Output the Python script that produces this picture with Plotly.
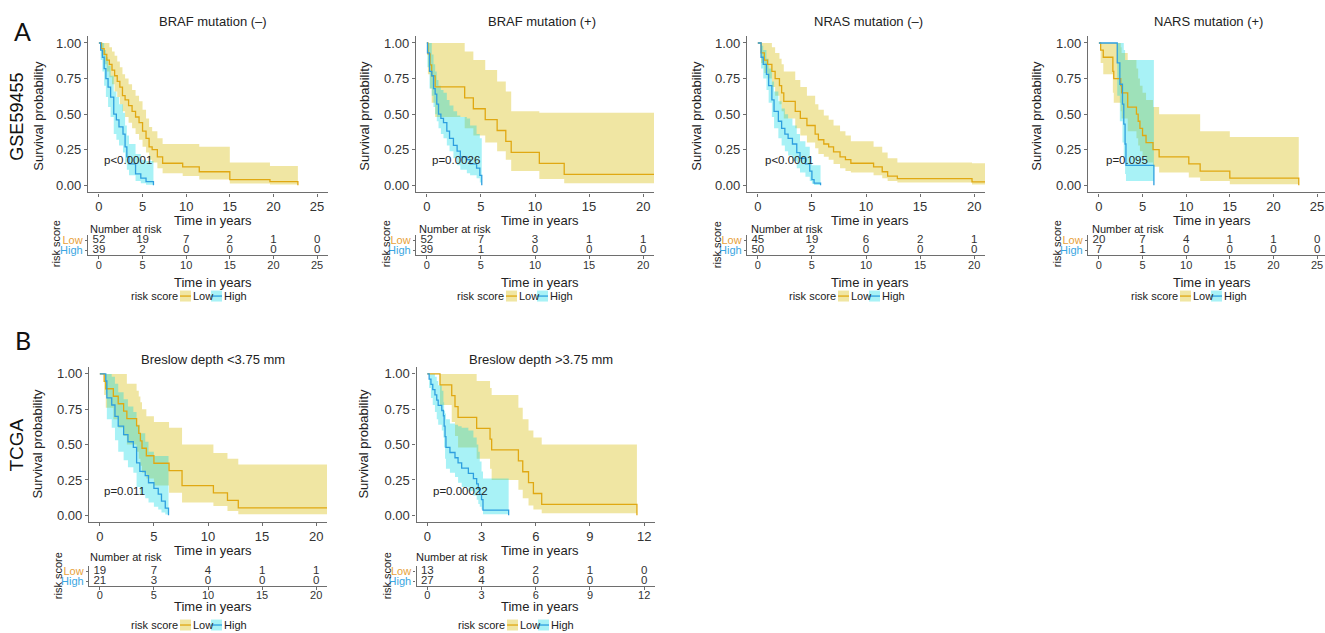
import plotly.graph_objects as go

# ------------------------------------------------------------------ data
titles = ["BRAF mutation (–)", "BRAF mutation (+)", "NRAS mutation (–)",
          "NARS mutation (+)", "Breslow depth <3.75 mm", "Breslow depth >3.75 mm"]
pvalues = ["p<0.0001", "p=0.0026", "p<0.0001", "p=0.095", "p=0.011", "p=0.00022"]
row_labels = ["GSE59455", "TCGA"]
group_names = ["Low", "High"]

# --- A1 BRAF mutation (-)
a1_low_t = [0, 0.3, 0.6, 0.9, 1.2, 1.5, 1.8, 2.1, 2.4, 2.7, 3.0, 3.4, 3.8, 4.2, 4.6, 5.0, 5.4, 5.75, 6.1, 6.7, 7.3, 9.6, 11.5, 15.0, 19.6, 22.8]
a1_low_s = [1.0, 0.96, 0.92, 0.88, 0.85, 0.81, 0.77, 0.73, 0.69, 0.63, 0.60, 0.56, 0.52, 0.48, 0.44, 0.38, 0.33, 0.27, 0.25, 0.20, 0.155, 0.13, 0.095, 0.04, 0.025, 0.0]
a1_low_lo = [1.0, 0.91, 0.85, 0.80, 0.76, 0.71, 0.66, 0.62, 0.57, 0.52, 0.48, 0.44, 0.40, 0.36, 0.32, 0.27, 0.23, 0.18, 0.16, 0.12, 0.085, 0.065, 0.04, 0.012, 0.005, 0.0]
a1_low_hi = [1.0, 1.0, 1.0, 1.0, 0.97, 0.94, 0.91, 0.87, 0.83, 0.78, 0.75, 0.71, 0.67, 0.63, 0.59, 0.53, 0.47, 0.41, 0.38, 0.33, 0.29, 0.29, 0.27, 0.16, 0.135, 0.0]
a1_high_t = [0, 0.2, 0.4, 0.6, 0.8, 1.05, 1.34, 1.7, 2.0, 2.3, 2.76, 3.0, 3.2, 3.45, 4.2, 4.8, 5.4, 6.25]
a1_high_s = [1.0, 0.95, 0.90, 0.82, 0.75, 0.69, 0.62, 0.50, 0.46, 0.41, 0.36, 0.27, 0.20, 0.15, 0.08, 0.05, 0.025, 0.0]
a1_high_lo = [1.0, 0.88, 0.80, 0.70, 0.62, 0.55, 0.48, 0.36, 0.32, 0.28, 0.23, 0.16, 0.11, 0.07, 0.03, 0.015, 0.004, 0.0]
a1_high_hi = [1.0, 1.0, 1.0, 0.95, 0.90, 0.84, 0.77, 0.66, 0.62, 0.57, 0.51, 0.42, 0.35, 0.29, 0.22, 0.18, 0.17, 0.0]

# --- A2 BRAF mutation (+)
a2_low_t = [0, 0.1, 0.3, 0.45, 0.77, 3.5, 4.3, 5.4, 6.5, 7.3, 7.8, 10.4, 12.7, 21.0]
a2_low_s = [1.0, 0.923, 0.846, 0.769, 0.692, 0.615, 0.538, 0.462, 0.385, 0.308, 0.231, 0.154, 0.077, 0.077]
a2_low_lo = [1.0, 0.78, 0.68, 0.58, 0.48, 0.40, 0.35, 0.30, 0.24, 0.18, 0.10, 0.045, 0.015, 0.015]
a2_low_hi = [1.0, 1.0, 1.0, 1.0, 1.0, 0.94, 0.88, 0.81, 0.73, 0.66, 0.52, 0.51, 0.51, 0.51]
a2_high_t = [0, 0.06, 0.25, 0.46, 0.62, 0.77, 0.92, 1.08, 1.3, 1.54, 1.85, 2.1, 2.46, 2.8, 3.1, 3.7, 4.0, 4.6, 4.9, 5.08]
a2_high_s = [1.0, 0.93, 0.80, 0.77, 0.68, 0.64, 0.57, 0.50, 0.47, 0.44, 0.38, 0.33, 0.28, 0.24, 0.20, 0.18, 0.15, 0.12, 0.07, 0.0]
a2_high_lo = [1.0, 0.83, 0.68, 0.63, 0.55, 0.50, 0.45, 0.40, 0.36, 0.33, 0.28, 0.24, 0.19, 0.14, 0.11, 0.085, 0.07, 0.05, 0.02, 0.0]
a2_high_hi = [1.0, 1.0, 1.0, 0.92, 0.85, 0.80, 0.74, 0.70, 0.67, 0.65, 0.60, 0.56, 0.52, 0.49, 0.48, 0.47, 0.42, 0.36, 0.33, 0.0]

# --- A3 NRAS mutation (-)
a3_low_t = [0, 0.3, 0.6, 0.9, 1.3, 1.6, 2.0, 2.2, 2.4, 3.46, 3.93, 4.54, 5.3, 5.6, 6.1, 6.55, 7.0, 7.6, 8.1, 8.6, 10.7, 11.5, 12.0, 12.9, 19.8, 21.0]
a3_low_s = [1.0, 0.93, 0.88, 0.85, 0.80, 0.75, 0.70, 0.65, 0.59, 0.52, 0.47, 0.42, 0.36, 0.32, 0.29, 0.27, 0.235, 0.20, 0.18, 0.155, 0.13, 0.095, 0.064, 0.047, 0.024, 0.024]
a3_low_lo = [1.0, 0.86, 0.79, 0.75, 0.69, 0.63, 0.57, 0.52, 0.47, 0.40, 0.35, 0.30, 0.26, 0.22, 0.20, 0.18, 0.15, 0.12, 0.10, 0.09, 0.07, 0.05, 0.03, 0.02, 0.005, 0.005]
a3_low_hi = [1.0, 1.0, 1.0, 1.0, 0.97, 0.93, 0.89, 0.85, 0.80, 0.74, 0.69, 0.63, 0.57, 0.53, 0.49, 0.46, 0.42, 0.38, 0.35, 0.31, 0.27, 0.23, 0.19, 0.16, 0.155, 0.155]
a3_high_t = [0, 0.3, 0.5, 0.8, 1.0, 1.3, 1.5, 1.9, 2.2, 2.5, 2.8, 3.2, 3.6, 3.9, 4.4, 4.8, 5.0, 5.2, 5.8]
a3_high_s = [1.0, 0.90, 0.85, 0.78, 0.70, 0.60, 0.52, 0.45, 0.40, 0.36, 0.33, 0.29, 0.23, 0.19, 0.15, 0.10, 0.04, 0.015, 0.0]
a3_high_lo = [1.0, 0.82, 0.75, 0.67, 0.58, 0.48, 0.40, 0.33, 0.28, 0.24, 0.21, 0.17, 0.12, 0.09, 0.06, 0.03, 0.01, 0.002, 0.0]
a3_high_hi = [1.0, 0.98, 0.95, 0.89, 0.82, 0.73, 0.66, 0.59, 0.54, 0.50, 0.47, 0.42, 0.36, 0.31, 0.27, 0.20, 0.14, 0.14, 0.0]

# --- A4 NARS mutation (+)
a4_low_t = [0, 0.2, 0.5, 1.6, 1.7, 2.5, 2.6, 3.3, 4.3, 4.5, 4.7, 5.0, 5.4, 6.2, 6.9, 10.3, 11.6, 15.0, 22.9]
a4_low_s = [1.0, 0.95, 0.90, 0.80, 0.75, 0.70, 0.65, 0.55, 0.50, 0.45, 0.40, 0.35, 0.30, 0.25, 0.20, 0.15, 0.10, 0.05, 0.0]
a4_low_lo = [1.0, 0.86, 0.78, 0.65, 0.58, 0.52, 0.47, 0.38, 0.33, 0.28, 0.24, 0.20, 0.16, 0.13, 0.09, 0.055, 0.03, 0.008, 0.0]
a4_low_hi = [1.0, 1.0, 1.0, 1.0, 1.0, 0.97, 0.93, 0.88, 0.82, 0.75, 0.70, 0.65, 0.60, 0.55, 0.50, 0.50, 0.38, 0.34, 0.0]
a4_high_t = [0, 2.1, 2.4, 2.7, 2.85, 3.0, 3.1, 6.3]
a4_high_s = [1.0, 0.86, 0.71, 0.57, 0.43, 0.29, 0.14, 0.0]
a4_high_lo = [1.0, 0.63, 0.45, 0.30, 0.18, 0.08, 0.03, 0.0]
a4_high_hi = [1.0, 1.0, 1.0, 1.0, 0.95, 0.88, 0.88, 0.0]

# --- B1 Breslow depth <3.75 mm
b1_low_t = [0, 0.4, 0.55, 1.25, 1.7, 2.2, 2.5, 3.4, 3.6, 3.75, 3.9, 4.3, 5.0, 6.4, 7.6, 10.5, 11.8, 12.8, 21.0]
b1_low_s = [1.0, 0.947, 0.895, 0.842, 0.789, 0.737, 0.684, 0.632, 0.579, 0.526, 0.474, 0.421, 0.368, 0.316, 0.21, 0.158, 0.105, 0.053, 0.053]
b1_low_lo = [1.0, 0.85, 0.76, 0.68, 0.62, 0.56, 0.50, 0.45, 0.40, 0.35, 0.30, 0.26, 0.21, 0.16, 0.09, 0.065, 0.03, 0.008, 0.008]
b1_low_hi = [1.0, 1.0, 1.0, 1.0, 1.0, 1.0, 0.93, 0.88, 0.84, 0.80, 0.75, 0.70, 0.66, 0.62, 0.50, 0.44, 0.40, 0.36, 0.36]
b1_high_t = [0, 0.55, 0.65, 1.1, 1.4, 1.7, 2.2, 2.6, 3.1, 3.4, 3.7, 4.2, 4.5, 5.0, 5.4, 5.7, 6.05, 6.35]
b1_high_s = [1.0, 0.95, 0.83, 0.78, 0.70, 0.63, 0.57, 0.52, 0.48, 0.37, 0.31, 0.28, 0.23, 0.19, 0.15, 0.10, 0.05, 0.0]
b1_high_lo = [1.0, 0.86, 0.68, 0.62, 0.53, 0.45, 0.39, 0.34, 0.30, 0.20, 0.15, 0.12, 0.09, 0.06, 0.04, 0.02, 0.005, 0.0]
b1_high_hi = [1.0, 1.0, 1.0, 0.98, 0.93, 0.87, 0.82, 0.77, 0.73, 0.64, 0.58, 0.52, 0.45, 0.42, 0.42, 0.42, 0.42, 0.0]

# --- B2 Breslow depth >3.75 mm
b2_low_t = [0, 0.7, 1.35, 1.53, 1.7, 2.73, 3.47, 3.56, 5.04, 5.28, 5.6, 5.87, 6.33, 11.6]
b2_low_s = [1.0, 0.923, 0.846, 0.769, 0.692, 0.615, 0.538, 0.462, 0.385, 0.308, 0.231, 0.154, 0.077, 0.0]
b2_low_lo = [1.0, 0.78, 0.66, 0.56, 0.48, 0.40, 0.33, 0.25, 0.18, 0.12, 0.07, 0.04, 0.015, 0.0]
b2_low_hi = [1.0, 1.0, 1.0, 1.0, 1.0, 0.95, 0.90, 0.85, 0.76, 0.68, 0.60, 0.55, 0.50, 0.0]
b2_high_t = [0, 0.1, 0.2, 0.3, 0.42, 0.52, 0.6, 0.8, 0.89, 0.93, 0.98, 1.03, 1.25, 1.53, 1.7, 1.9, 2.27, 2.55, 2.73, 2.82, 2.9, 3.0, 3.08, 4.5]
b2_high_s = [1.0, 0.963, 0.926, 0.889, 0.852, 0.815, 0.778, 0.741, 0.704, 0.63, 0.556, 0.481, 0.444, 0.407, 0.37, 0.333, 0.296, 0.259, 0.222, 0.185, 0.148, 0.111, 0.037, 0.0]
b2_high_lo = [1.0, 0.90, 0.83, 0.78, 0.73, 0.68, 0.64, 0.60, 0.55, 0.48, 0.40, 0.33, 0.30, 0.27, 0.23, 0.20, 0.17, 0.14, 0.11, 0.08, 0.06, 0.04, 0.008, 0.0]
b2_high_hi = [1.0, 1.0, 1.0, 1.0, 0.98, 0.95, 0.92, 0.88, 0.80, 0.74, 0.72, 0.68, 0.65, 0.64, 0.63, 0.62, 0.60, 0.55, 0.50, 0.45, 0.38, 0.31, 0.26, 0.0]

# --- number at risk tables
a1_risk_t = [0, 5, 10, 15, 20, 25]
a1_risk_low = [52, 19, 7, 2, 1, 0]
a1_risk_high = [39, 2, 0, 0, 0, 0]
a2_risk_t = [0, 5, 10, 15, 20]
a2_risk_low = [52, 7, 3, 1, 1]
a2_risk_high = [39, 1, 0, 0, 0]
a3_risk_t = [0, 5, 10, 15, 20]
a3_risk_low = [45, 19, 6, 2, 1]
a3_risk_high = [50, 2, 0, 0, 0]
a4_risk_t = [0, 5, 10, 15, 20, 25]
a4_risk_low = [20, 7, 4, 1, 1, 0]
a4_risk_high = [7, 1, 0, 0, 0, 0]
b1_risk_t = [0, 5, 10, 15, 20]
b1_risk_low = [19, 7, 4, 1, 1]
b1_risk_high = [21, 3, 0, 0, 0]
b2_risk_t = [0, 3, 6, 9, 12]
b2_risk_low = [13, 8, 2, 1, 0]
b2_risk_high = [27, 4, 0, 0, 0]

y_ticks = [0, 0.25, 0.5, 0.75, 1.0]
y_ticktext = ["0.00", "0.25", "0.50", "0.75", "1.00"]

# ------------------------------------------------------------------ style / layout geometry
W, H = 1325, 633
FONT = "Liberation Sans, Arial, Helvetica, sans-serif"
TXT = "#333333"
AXC = "#6e6e6e"
LOW_LINE = "#E0A812"
HIGH_LINE = "#2E9FDF"
LOW_FILL = "rgba(222,200,50,0.45)"
HIGH_FILL = "rgba(0,218,228,0.34)"
LOW_LABEL = "#E8A23A"
HIGH_LABEL = "#3AA6E2"


def fx(p):
    return p / W


def fy(p):
    return 1 - p / H


ROWS = {
    "A": dict(main=(35, 192), table=(235, 255), title_y=21, xt_y=220, tt_y=282,
              nar_y=229, leg_y=296, sp_y=115, rs_y=244, p_y=160),
    "B": dict(main=(367, 523), table=(567, 587), title_y=360, xt_y=551, tt_y=607,
              nar_y=558, leg_y=626, sp_y=444, rs_y=577, p_y=492),
}

panels = [
    dict(row="A", xl=88, xr=328, xmax=25, title_x=213, xt_x=213, sp_x=39, rs_x=56, nar_x=89, p_x=103, leg_x=180,
         low=(a1_low_t, a1_low_s, a1_low_lo, a1_low_hi), high=(a1_high_t, a1_high_s, a1_high_lo, a1_high_hi),
         risk=(a1_risk_t, a1_risk_low, a1_risk_high)),
    dict(row="A", xl=416, xr=654, xmax=20, title_x=542, xt_x=540, sp_x=365, rs_x=386, nar_x=418, p_x=431, leg_x=506,
         low=(a2_low_t, a2_low_s, a2_low_lo, a2_low_hi), high=(a2_high_t, a2_high_s, a2_high_lo, a2_high_hi),
         risk=(a2_risk_t, a2_risk_low, a2_risk_high)),
    dict(row="A", xl=747, xr=985, xmax=20, title_x=868, xt_x=870, sp_x=697, rs_x=717, nar_x=750, p_x=764, leg_x=838,
         low=(a3_low_t, a3_low_s, a3_low_lo, a3_low_hi), high=(a3_high_t, a3_high_s, a3_high_lo, a3_high_hi),
         risk=(a3_risk_t, a3_risk_low, a3_risk_high)),
    dict(row="A", xl=1088, xr=1328, xmax=25, title_x=1208, xt_x=1212, sp_x=1037, rs_x=1057, nar_x=1091, p_x=1105, leg_x=1180,
         low=(a4_low_t, a4_low_s, a4_low_lo, a4_low_hi), high=(a4_high_t, a4_high_s, a4_high_lo, a4_high_hi),
         risk=(a4_risk_t, a4_risk_low, a4_risk_high)),
    dict(row="B", xl=89, xr=327, xmax=20, title_x=213, xt_x=213, sp_x=38, rs_x=58, nar_x=89, p_x=103, leg_x=180,
         low=(b1_low_t, b1_low_s, b1_low_lo, b1_low_hi), high=(b1_high_t, b1_high_s, b1_high_lo, b1_high_hi),
         risk=(b1_risk_t, b1_risk_low, b1_risk_high)),
    dict(row="B", xl=416.5, xr=655, xmax=12, title_x=541, xt_x=540, sp_x=364, rs_x=387, nar_x=415, p_x=432, leg_x=507,
         low=(b2_low_t, b2_low_s, b2_low_lo, b2_low_hi), high=(b2_high_t, b2_high_s, b2_high_lo, b2_high_hi),
         risk=(b2_risk_t, b2_risk_low, b2_risk_high)),
]

fig = go.Figure()
layout = dict(width=W, height=H, margin=dict(l=0, r=0, t=0, b=0),
              paper_bgcolor="white", plot_bgcolor="white", showlegend=False,
              font=dict(family=FONT, color=TXT))
annotations = []
shapes = []


def axname(k, a):
    return a if k == 1 else f"{a}{k}"


def txt(x, y, text, size, color=TXT, xanchor="center", angle=0, family=FONT):
    annotations.append(dict(x=fx(x), y=fy(y), xref="paper", yref="paper", text=text, showarrow=False,
                            xanchor=xanchor, yanchor="middle", textangle=angle, borderpad=0,
                            font=dict(size=size, color=color, family=family)))


for i, p in enumerate(panels):
    k = i + 1
    kt = i + 7
    r = ROWS[p["row"]]
    xmax = p["xmax"]
    r0 = -0.05 * xmax
    ppu = (p["xr"] - p["xl"]) / (1.1 * xmax)
    xr = min(p["xr"], W)
    r1 = r0 + (xr - p["xl"]) / ppu
    ticks = p["risk"][0]

    common_x = dict(range=[r0, r1], tickvals=ticks, ticktext=[str(t) for t in ticks],
                    showline=True, linecolor=AXC, linewidth=1.3, ticks="outside", ticklen=3,
                    tickcolor=AXC, tickwidth=1.2, showgrid=False, zeroline=False, fixedrange=True)
    layout[axname(k, "xaxis")] = dict(domain=[fx(p["xl"]), fx(xr)], anchor=axname(k, "y"),
                                      tickfont=dict(size=13, color=TXT), ticklabelstandoff=-1, **common_x)
    top, bot = r["main"]
    layout[axname(k, "yaxis")] = dict(domain=[fy(bot), fy(top)], anchor=axname(k, "x"), range=[-0.05, 1.05],
                                      tickvals=y_ticks, ticktext=y_ticktext, showline=True, linecolor=AXC,
                                      linewidth=1.3, ticks="outside", ticklen=3, tickcolor=AXC, tickwidth=1.2,
                                      showgrid=False, zeroline=False, fixedrange=True,
                                      tickfont=dict(size=13, color=TXT))
    ttop, tbot = r["table"]
    layout[axname(kt, "xaxis")] = dict(domain=[fx(p["xl"]), fx(xr)], anchor=axname(kt, "y"),
                                       tickfont=dict(size=11, color=TXT), ticklabelstandoff=-4, **common_x)
    layout[axname(kt, "yaxis")] = dict(domain=[fy(tbot), fy(ttop)], anchor=axname(kt, "x"), range=[0.5, 2.5],
                                       tickvals=[1, 2],
                                       ticktext=[f'<span style="color:{HIGH_LABEL}">High</span>',
                                                 f'<span style="color:{LOW_LABEL}">Low</span>'],
                                       showline=True, linecolor=AXC, linewidth=1.3, ticks="outside", ticklen=2,
                                       tickcolor=AXC, tickwidth=1.2, showgrid=False, zeroline=False,
                                       fixedrange=True, tickfont=dict(size=11, color=TXT))

    xa, ya = axname(k, "x"), axname(k, "y")
    for (t, s, lo, hi), fill in ((p["low"], LOW_FILL), (p["high"], HIGH_FILL)):
        fig.add_trace(go.Scatter(x=t, y=lo, mode="lines", line=dict(width=0, shape="hv"),
                                 xaxis=xa, yaxis=ya, hoverinfo="skip", showlegend=False))
        fig.add_trace(go.Scatter(x=t, y=hi, mode="lines", line=dict(width=0, shape="hv"),
                                 fill="tonexty", fillcolor=fill,
                                 xaxis=xa, yaxis=ya, hoverinfo="skip", showlegend=False))
    for (t, s, lo, hi), col, name in ((p["low"], LOW_LINE, "Low"), (p["high"], HIGH_LINE, "High")):
        fig.add_trace(go.Scatter(x=t, y=s, mode="lines", name=name, line=dict(color=col, width=1.3, shape="hv"),
                                 xaxis=xa, yaxis=ya, showlegend=False))

    rt, rlow, rhigh = p["risk"]
    xat, yat = axname(kt, "x"), axname(kt, "y")
    fig.add_trace(go.Scatter(x=rt, y=[2] * len(rt), mode="text", text=[str(v) for v in rlow],
                             textfont=dict(size=11.5, color=TXT), xaxis=xat, yaxis=yat,
                             cliponaxis=False, hoverinfo="skip", showlegend=False))
    fig.add_trace(go.Scatter(x=rt, y=[1] * len(rt), mode="text", text=[str(v) for v in rhigh],
                             textfont=dict(size=11.5, color=TXT), xaxis=xat, yaxis=yat,
                             cliponaxis=False, hoverinfo="skip", showlegend=False))

    # texts
    txt(p["title_x"], r["title_y"], titles[i], 13, color="#222222")
    txt(p["xt_x"], r["xt_y"], "Time in years", 13, color="#222222")
    txt(p["xt_x"], r["tt_y"], "Time in years", 13, color="#222222")
    txt(p["sp_x"], r["sp_y"], "Survival probability", 13, color="#222222", angle=-90)
    txt(p["rs_x"], r["rs_y"], "risk score", 11, color="#222222", angle=-90)
    txt(p["nar_x"], r["nar_y"], "Number at risk", 11, color="#222222", xanchor="left")
    txt(p["p_x"], r["p_y"], pvalues[i], 11.5, color="#222222", xanchor="left")

    # legend
    lx, ly = p["leg_x"], r["leg_y"]
    txt(lx - 1.5, ly, "risk score", 11, color="#222222", xanchor="right")
    for j, (fill, col) in enumerate(((LOW_FILL, LOW_LINE), (HIGH_FILL, HIGH_LINE))):
        bx = lx + 31 * j
        shapes.append(dict(type="rect", xref="paper", yref="paper", x0=fx(bx), x1=fx(bx + 11),
                           y0=fy(ly + 5.5), y1=fy(ly - 5.5), fillcolor=fill, line=dict(width=0)))
        shapes.append(dict(type="line", xref="paper", yref="paper", x0=fx(bx), x1=fx(bx + 11),
                           y0=fy(ly), y1=fy(ly), line=dict(color=col, width=1.3)))
    txt(lx + 11.5, ly, group_names[0], 11, color="#222222", xanchor="left")
    txt(lx + 42.5, ly, group_names[1], 11, color="#222222", xanchor="left")

# panel letters and row labels
txt(22, 30, "A", 25, color="#111111", family="Lato, Liberation Sans, sans-serif")
txt(23, 340, "B", 25, color="#111111", family="Lato, Liberation Sans, sans-serif")
txt(17, 116, row_labels[0], 18, color="#111111", angle=-90)
txt(17, 446, row_labels[1], 19, color="#111111", angle=-90)

layout["annotations"] = annotations
layout["shapes"] = shapes
fig.update_layout(**layout)
fig.write_html("out.html", config={"displayModeBar": False},
               post_script="document.body.style.margin='0px';document.body.style.overflow='hidden';")
